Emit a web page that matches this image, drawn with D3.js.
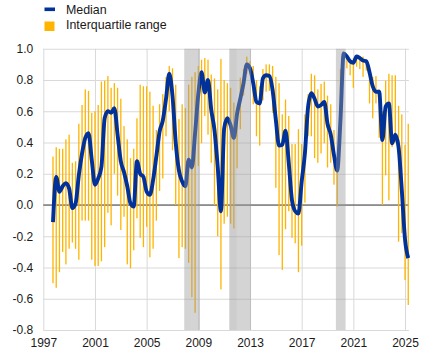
<!DOCTYPE html>
<html>
<head>
<meta charset="utf-8">
<script src="https://cdn.jsdelivr.net/npm/d3@7"></script>
<style>
  body { margin: 0; background: #fff; }
  svg { display: block; font-family: "Liberation Sans", Arial, sans-serif; }
  .grid line { stroke: #d9d9d9; stroke-width: 1; }
  .grid path { display: none; }
  .tick text { fill: #1a1a1a; font-size: 12px; }
</style>
</head>
<body>
<svg width="437" height="357"></svg>
<script>
// quarterly observations, first one is 1997 Q4
const firstQuarter = 1997.75;

const median = [
  -0.11, 0.18, 0.085, 0.12, 0.14, 0.105, -0.02, 0.01, 0.19, 0.33,
  0.43, 0.46, 0.29, 0.13, 0.17, 0.245, 0.555, 0.60, 0.59, 0.62,
  0.45, 0.28, 0.21, 0.12, 0.01, -0.01, 0.28, 0.20, 0.18, 0.085,
  0.065, 0.16, 0.31, 0.47, 0.54, 0.68, 0.84, 0.70, 0.40, 0.22,
  0.15, 0.12, 0.29, 0.24, 0.46, 0.71, 0.85, 0.72, 0.80, 0.61,
  0.48, 0.245, -0.04, 0.49, 0.555, 0.51, 0.43, 0.585, 0.68, 0.78,
  0.90, 0.875, 0.78, 0.66, 0.65, 0.81, 0.83, 0.825, 0.735, 0.545,
  0.38, 0.385, 0.475, 0.27, 0.03, -0.04, -0.055, 0.15, 0.33, 0.63,
  0.715, 0.68, 0.63, 0.64, 0.66, 0.52, 0.45, 0.32, 0.22, 0.54,
  0.97, 0.95, 0.92, 0.91, 0.95, 0.94, 0.925, 0.92, 0.85, 0.76,
  0.725, 0.725, 0.415, 0.63, 0.65, 0.395, 0.45, 0.37, 0.096, -0.22,
  -0.34
];

const q25 = [
  -0.50, -0.53, -0.43, -0.30, -0.38, -0.28, -0.24, -0.28, -0.35, -0.10,
  -0.10, -0.10, -0.35, -0.39, -0.39, -0.36, -0.27, -0.05, -0.13, 0.20,
  0.06, -0.16, -0.075, -0.38, -0.405, -0.29, -0.085, -0.21, -0.27, -0.14,
  -0.335, -0.28, -0.10, 0.09, 0.17, 0.44, 0.60, 0.35, 0.0, -0.34,
  -0.27, -0.28, -0.37, -0.59, -0.69, 0.25, 0.395, 0.57, 0.45, 0.27,
  0.0, -0.20, -0.54, -0.12, -0.075, -0.12, -0.15, 0.235, 0.485, 0.70,
  0.84, 0.84, 0.645, 0.44, 0.38, 0.67, 0.725, 0.73, 0.59, 0.11,
  -0.32, -0.415, -0.155, -0.04, -0.21, -0.245, -0.43, -0.26, 0.015, 0.44,
  0.44, 0.30, 0.27, 0.33, 0.395, 0.24, 0.27, 0.13, -0.01, 0.52,
  0.93, 0.875, 0.83, 0.75, 0.885, 0.87, 0.82, 0.86, 0.65, 0.555,
  0.65, 0.43, 0.0, 0.19, 0.03, 0.37, 0.40, -0.235, -0.18, -0.48,
  -0.64
];

const q75 = [
  0.31, 0.37, 0.36, 0.36, 0.42, 0.45, 0.27, 0.28, 0.52, 0.64,
  0.74, 0.73, 0.59, 0.60, 0.64, 0.79, 0.795, 0.825, 0.75, 0.78,
  0.75, 0.68, 0.505, 0.42, 0.30, 0.36, 0.555, 0.77, 0.76, 0.76,
  0.725, 0.635, 0.48, 0.645, 0.71, 0.82, 0.89, 0.875, 0.77, 0.55,
  0.645, 0.62, 0.77, 0.82, 0.85, 0.89, 0.93, 0.94, 0.93, 0.835,
  0.81, 0.74, 0.935, 0.80, 0.78, 0.75, 0.655, 0.62, 0.815, 0.87,
  0.95, 0.92, 0.89, 0.80, 0.76, 0.87, 0.90, 0.90, 0.89, 0.82,
  0.78, 0.58, 0.675, 0.57, 0.39, 0.39, 0.485, 0.39, 0.58, 0.71,
  0.84, 0.83, 0.74, 0.775, 0.79, 0.70, 0.645, 0.48, 0.245, 0.87,
  0.98, 0.96, 0.91, 0.94, 0.96, 0.955, 0.95, 0.93, 0.84, 0.82,
  0.825, 0.74, 0.60, 0.795, 0.84, 0.83, 0.83, 0.635, 0.58, 0.385,
  0.52
];

// shaded periods (start, end in fractional years, opacity)
const shaded = [
  [2007.91, 2009.13, 0.42],
  [2011.40, 2013.08, 0.42],
  [2011.40, 2011.97, 0.12],
  [2019.65, 2020.40, 0.42]
];

const xTicks = [1997, 2001, 2005, 2009, 2013, 2017, 2021, 2025];
const yTicks = [-0.8, -0.6, -0.4, -0.2, 0.0, 0.2, 0.4, 0.6, 0.8, 1.0];

const legendItems = ['Median', 'Interquartile range'];

const data = median.map((m, i) => ({
  t: firstQuarter + i * 0.25,
  median: m,
  lo: q25[i],
  hi: q75[i]
}));

const blue = '#003299';
const orange = '#ffb400';

const svg = d3.select('svg');
const plotLeft = 43.3, plotRight = 408.9, plotTop = 48.75, plotBottom = 330;

const x = d3.scaleLinear()
    .domain([1997, 2025.3])
    .range([plotLeft, plotRight]);
const y = d3.scaleLinear()
    .domain([-0.8, 1.0])
    .range([plotBottom, plotTop]);

// horizontal grid + y labels
svg.append('g')
    .attr('class', 'grid')
    .attr('transform', `translate(${plotLeft},0)`)
    .call(d3.axisLeft(y)
        .tickValues(yTicks)
        .tickSize(-(plotRight - plotLeft))
        .tickPadding(10)
        .tickFormat(d => d.toFixed(1)));

// vertical grid + x labels
svg.append('g')
    .attr('class', 'grid')
    .attr('transform', `translate(0,${plotBottom})`)
    .call(d3.axisBottom(x)
        .tickValues(xTicks)
        .tickSize(-(plotBottom - plotTop))
        .tickPadding(8)
        .tickFormat(d3.format('d')));

// zero line
svg.append('line')
    .attr('x1', plotLeft).attr('x2', plotRight)
    .attr('y1', y(0)).attr('y2', y(0))
    .attr('stroke', '#404040')
    .attr('stroke-width', 1);

// interquartile bars
svg.append('g')
    .selectAll('rect')
    .data(data)
    .enter()
    .append('rect')
    .attr('x', d => x(d.t) - 0.65)
    .attr('width', 1.3)
    .attr('y', d => y(d.hi))
    .attr('height', d => y(d.lo) - y(d.hi))
    .attr('fill', orange);

// median line
svg.append('path')
    .datum(data)
    .attr('fill', 'none')
    .attr('stroke', blue)
    .attr('stroke-width', 3.9)
    .attr('stroke-linejoin', 'round')
    .attr('d', d3.line()
        .x(d => x(d.t))
        .y(d => y(d.median))
        .curve(d3.curveMonotoneX));

// shaded periods on top
svg.append('g')
    .selectAll('rect')
    .data(shaded)
    .enter()
    .append('rect')
    .attr('x', d => x(d[0]))
    .attr('width', d => x(d[1]) - x(d[0]))
    .attr('y', plotTop)
    .attr('height', plotBottom - plotTop)
    .attr('fill', '#999999')
    .attr('fill-opacity', d => d[2]);

// legend
const legend = svg.append('g');
legend.append('rect')
    .attr('x', 44.5).attr('y', 7.5)
    .attr('width', 10.5).attr('height', 3.6)
    .attr('fill', blue);
legend.append('rect')
    .attr('x', 44.5).attr('y', 21.5)
    .attr('width', 10).attr('height', 9.5)
    .attr('fill', orange);
legend.selectAll('text')
    .data(legendItems)
    .enter()
    .append('text')
    .attr('x', 66)
    .attr('y', (d, i) => 14 + i * 15.3)
    .attr('font-size', '12.4px')
    .attr('fill', '#1a1a1a')
    .text(d => d);
</script>
</body>
</html>
